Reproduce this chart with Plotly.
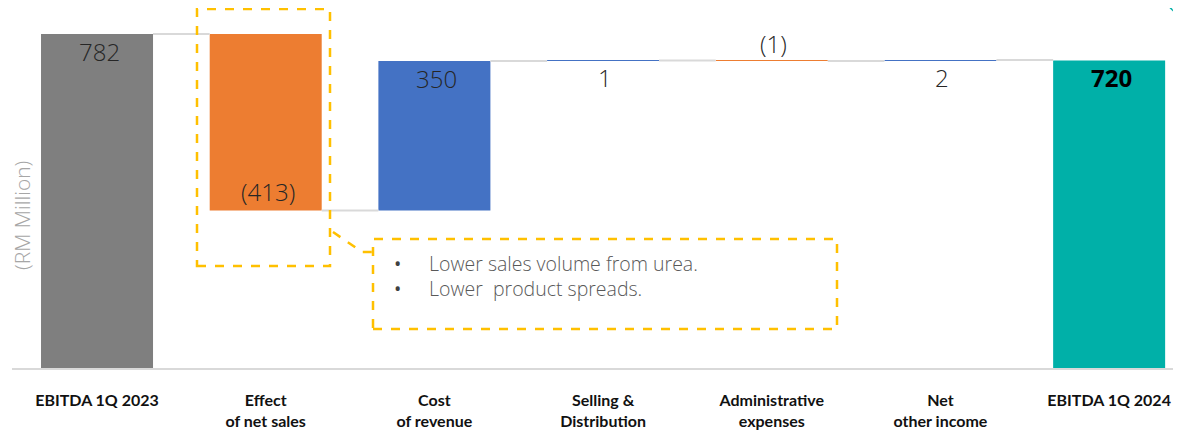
import plotly.graph_objects as go

categories = ["EBITDA 1Q 2023", "Effect<br>of net sales", "Cost<br>of revenue",
              "Selling &<br>Distribution", "Administrative<br>expenses",
              "Net<br>other income", "EBITDA 1Q 2024"]
measures = ["total", "relative", "relative", "relative", "relative", "relative", "total"]
values = [782, -413, 350, 1, -1, 2, 720]
labels = ["782", "(413)", "350", "1", "(1)", "2", "720"]
label_side = ["in_top", "in_bottom", "in_top", "below", "above", "below", "in_top"]
bar_colors = ["#7F7F7F", "#ED7D31", "#4472C4", "#4472C4", "#ED7D31", "#4472C4", "#00B0A8"]

bullets = ["Lower sales volume from urea.", "Lower  product spreads."]

# compute bases / tops from data
bases, heights, tops, bottoms = [], [], [], []
run = 0
for m, v in zip(measures, values):
    if m == "total":
        b, h = 0, v
        run = v
    else:
        b = run if v >= 0 else run + v
        h = abs(v)
        run = run + v
    bases.append(b)
    heights.append(h)
    bottoms.append(b)
    tops.append(b + h)

x = list(range(len(categories)))

fig = go.Figure()
fig.add_trace(go.Bar(x=x, y=heights, base=bases, marker=dict(color=bar_colors, line=dict(width=0)),
                     width=0.664, hoverinfo="skip", showlegend=False))

# connectors
ends = []
run = 0
for m, v in zip(measures, values):
    run = v if m == "total" else run + v
    ends.append(run)
cx, cy = [], []
for i in range(len(x) - 1):
    cx += [i + 0.332, i + 1 - 0.332, None]
    cy += [ends[i], ends[i], None]
fig.add_trace(go.Scatter(x=cx, y=cy, mode="lines", line=dict(color="#D9D9D9", width=2),
                         hoverinfo="skip", showlegend=False))

OFF = 8  # page body margin
W, H = 1181 - OFF, 435 - OFF
L, R, T, B = 12 - OFF, 0, 0, 67
pw, ph = W - L - R, H - T - B
def X(px):
    return (px - OFF - L) / pw
def Y(py):
    return (H - B - (py - OFF)) / ph

ann = []
for i, (lab, side) in enumerate(zip(labels, label_side)):
    bold = (i == len(labels) - 1)
    font = dict(family="Open Sans", size=24, color="#000000" if bold else "#262626",
                weight=700 if bold else 300)
    if side in ("in_top", "below"):
        ann.append(dict(x=i, y=tops[i], text=lab, showarrow=False, yanchor="top", yshift=1, xshift=2, font=font))
    elif side == "in_bottom":
        ann.append(dict(x=i, y=bottoms[i], text=lab, showarrow=False, yanchor="bottom", yshift=0, xshift=2, font=font))
    else:
        ann.append(dict(x=i, y=tops[i], text=lab, showarrow=False, yanchor="bottom", yshift=-2, xshift=2, font=font))

# y axis title
ann.append(dict(xref="paper", yref="paper", x=X(22), y=Y(216), text="(RM Million)", textangle=-90,
                showarrow=False, xanchor="center", yanchor="middle",
                font=dict(family="Open Sans", size=21, color="#A6A6A6", weight=300)))

# bullet text (one block so lines share spacing)
yy = Y(275.5)
ann.append(dict(xref="paper", yref="paper", x=X(397), y=yy, text="<br>".join("•" for _ in bullets),
                showarrow=False, xanchor="center", yanchor="middle", align="center",
                font=dict(family="Open Sans", size=19.5, color="#404040")))
ann.append(dict(xref="paper", yref="paper", x=X(427), y=yy, text="<br>".join(bullets), showarrow=False,
                xanchor="left", yanchor="middle", align="left",
                font=dict(family="Open Sans", size=19.5, color="#595959", weight=300)))

dash = dict(color="#FFC000", width=2.5, dash="dash")
shapes = [
    dict(type="rect", xref="paper", yref="paper", x0=X(197), x1=X(330), y0=Y(266), y1=Y(9), line=dash),
    dict(type="rect", xref="paper", yref="paper", x0=X(373), x1=X(837), y0=Y(329), y1=Y(239), line=dash),
    dict(type="path", xref="paper", yref="paper",
         path=f"M {X(333)},{Y(232)} L {X(362)},{Y(252)} L {X(373)},{Y(252)}", line=dash),
    dict(type="line", xref="paper", yref="paper", x0=X(1162), y0=Y(0), x1=X(1181), y1=Y(18),
         line=dict(color="#00B0A8", width=1.5)),
]

# 782 units span 334 px (baseline y=368 to top y=34 in the page)
ymax = 782 * ph / 334
fig.update_layout(
    width=W, height=H, margin=dict(l=L, r=R, t=T, b=B),
    paper_bgcolor="white", plot_bgcolor="white",
    bargap=0.336,
    xaxis=dict(range=[-0.504, 6.426], tickvals=x, ticktext=categories, showgrid=False, zeroline=False,
               showline=True, linecolor="#D9D9D9", linewidth=2, ticks="",
               ticklabelstandoff=17,
               tickfont=dict(family="Lato", size=16, color="#111111", weight=700),
               fixedrange=True),
    yaxis=dict(range=[0, ymax], visible=False, fixedrange=True),
    annotations=ann, shapes=shapes,
)

fig.write_html("out.html")
